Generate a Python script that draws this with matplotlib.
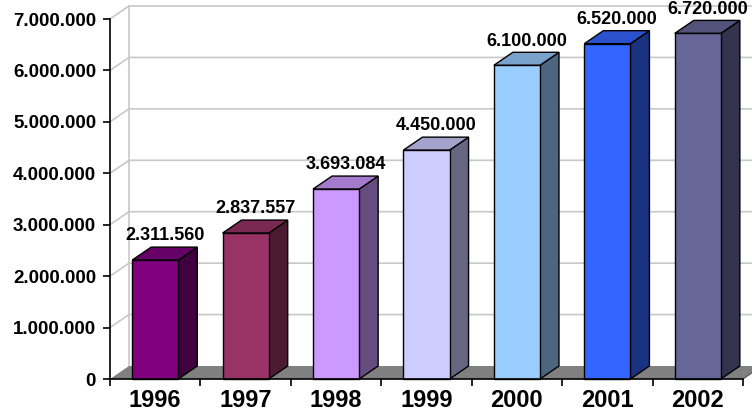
import matplotlib.pyplot as plt
from matplotlib.patches import Polygon
from matplotlib.ticker import FuncFormatter

years = ["1996", "1997", "1998", "1999", "2000", "2001", "2002"]
values = [2311560, 2837557, 3693084, 4450000, 6100000, 6520000, 6720000]
front_colors = ["#800080", "#993366", "#CC99FF", "#CCCCFF", "#99CCFF", "#3366FF", "#666699"]
side_colors = ["#400040", "#4D1A33", "#664D80", "#666680", "#4D6680", "#1A3380", "#33334D"]
top_colors = ["#660066", "#7A2952", "#A37ACC", "#A3A3CC", "#7AA3CC", "#2952CC", "#52527A"]
y_ticks = [0, 1000000, 2000000, 3000000, 4000000, 5000000, 6000000, 7000000]

plt.rcParams['font.family'] = ['Liberation Sans', 'DejaVu Sans']
plt.rcParams['font.weight'] = 'bold'

fig = plt.figure(figsize=(7.52, 4.19), dpi=100)
ax = fig.add_axes([110 / 752, 40 / 419, 633 / 752, 360 / 419])
ymax = 7000000
ax.set_xlim(-0.5, len(years) - 0.5)
ax.set_ylim(0, ymax)

# depth offset of the 3d look, in data units
ddx = 19 / 90.4
ddy = 13 / 360 * ymax
w = 0.51
xr = len(years) - 0.5 + ddx + 0.5

# floor
ax.add_patch(Polygon([(-0.5, 0), (len(years) - 0.5, 0), (len(years) - 0.5 + ddx, ddy), (-0.5 + ddx, ddy)],
                     closed=True, facecolor="#808080", edgecolor="none", clip_on=False, zorder=1))
# back wall grid and side wall diagonals
for t in y_ticks[1:]:
    ax.plot([-0.5, -0.5 + ddx, xr], [t, t + ddy, t + ddy], color="#C8C8C8", lw=1.2,
            clip_on=False, zorder=0.5)
ax.plot([-0.5 + ddx, -0.5 + ddx], [ddy, ymax + ddy], color="#C8C8C8", lw=1.2, clip_on=False, zorder=0.5)
ax.plot([len(years) - 0.5, len(years) - 0.5 + ddx], [0, ddy], color="#555555", lw=0.8, clip_on=False, zorder=1.2)

for i, v in enumerate(values):
    x0, x1 = i - w / 2, i + w / 2
    side = [(x1, 0), (x1 + ddx, ddy), (x1 + ddx, v + ddy), (x1, v)]
    top = [(x0, v), (x1, v), (x1 + ddx, v + ddy), (x0 + ddx, v + ddy)]
    front = [(x0, 0), (x1, 0), (x1, v), (x0, v)]
    for pts, c in [(side, side_colors[i]), (top, top_colors[i]), (front, front_colors[i])]:
        ax.add_patch(Polygon(pts, closed=True, facecolor=c, edgecolor="black", lw=1.0,
                             clip_on=False, zorder=3))
    label = f"{v:,}".replace(",", ".")
    ax.annotate(label, (i + ddx / 2, v + ddy), xytext=(0, 2), textcoords="offset points",
                ha="center", va="bottom", fontsize=13, fontweight="bold", zorder=5,
                annotation_clip=False)

for s in ["top", "right"]:
    ax.spines[s].set_visible(False)
ax.spines["left"].set_linewidth(1.2)
ax.spines["bottom"].set_linewidth(1.2)
ax.spines["bottom"].set_zorder(4)

ax.set_yticks(y_ticks)
ax.yaxis.set_major_formatter(FuncFormatter(lambda v, p: f"{int(v):,}".replace(",", ".")))
ax.tick_params(axis="y", length=5, width=1.2, labelsize=13.5, pad=5)

ax.set_xticks([i - 0.5 for i in range(len(years) + 1)])
ax.set_xticklabels([])
ax.tick_params(axis="x", which="major", length=5, width=1.2)
ax.set_xticks(range(len(years)), minor=True)
ax.set_xticklabels(years, minor=True, fontsize=17, fontweight="bold")
ax.tick_params(axis="x", which="minor", length=0, pad=7)
for lab in ax.get_yticklabels():
    lab.set_fontweight("bold")

fig.savefig("out.png", dpi=100)
